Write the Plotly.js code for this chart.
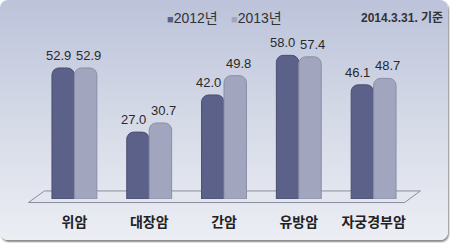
<!DOCTYPE html>
<html><head><meta charset="utf-8">
<script src="https://cdn.plot.ly/plotly-3.0.1.min.js"></script>
<style>
html,body{margin:0;padding:0;background:#fff;}
#wrap{position:absolute;left:0;top:0;width:448px;height:240px;border-radius:8px;
background:linear-gradient(to bottom,#bcc3da 0%,#d3d8e6 45%,#eceef4 100%);
box-shadow:1px 2px 2px #888;}
#chart{position:absolute;left:0;top:0;width:450px;height:243px;}
</style></head><body>
<div id="wrap"></div>
<div id="chart"></div>
<script>
const categories = ['위암','대장암','간암','유방암','자궁경부암'];
const series2012 = [52.9, 27.0, 42.0, 58.0, 46.1];
const series2013 = [52.9, 30.7, 49.8, 57.4, 48.7];
const seriesNames = ['2012년','2013년'];
const seriesColors = ['#5b6189','#a1a5bd'];
const note = '2014.3.31. 기준';

const font = 'Liberation Sans, Arial, Noto Sans CJK KR, sans-serif';
function mk(name, vals, color, line){
  return {type:'bar', name:name, x:categories, y:vals,
    marker:{color:color, line:{color:line, width:1}, cornerradius:7},
    hoverinfo:'skip'};
}
const data = [
  mk(seriesNames[0], series2012, seriesColors[0], '#4a4f72'),
  mk(seriesNames[1], series2013, seriesColors[1], '#8a8ea8')
];
// value labels: offset to each bar of the group
function valueLabels(vals, shift){
  return vals.map((v,i)=>({x:categories[i], y:v, xref:'x', yref:'y',
    xshift:shift, yshift:3, yanchor:'bottom', xanchor:'center', showarrow:false,
    text:v.toFixed(1), font:{family:font, size:13, color:'#2a2a2a'}}));
}
const legendAnn = seriesNames.map((n,i)=>({xref:'paper', yref:'paper',
  x:(i===0?165:229)/375 - 36.5/375, y:(199-18)/161, xanchor:'left', yanchor:'middle', showarrow:false,
  text:'<span style="color:'+seriesColors[i]+';font-size:11px">■</span>'+n,
  font:{family:font, size:14, color:'#333'}}));
const layout = {
  width:450, height:243,
  margin:{l:36.5, r:38.5, t:38, b:44, autoexpand:false},
  paper_bgcolor:'rgba(0,0,0,0)', plot_bgcolor:'rgba(0,0,0,0)',
  barmode:'group', bargap:0.4, bargroupgap:0,
  showlegend:false,
  xaxis:{showgrid:false, zeroline:false, showline:false, ticks:'',
    ticklabelstandoff:13,
    tickfont:{family:'Noto Sans CJK KR, sans-serif', size:14, color:'#222', weight:'bold'}},
  yaxis:{range:[0,65], visible:false, showgrid:false, zeroline:false},
  shapes:[{type:'path', xref:'paper', yref:'paper', layer:'below',
    path:'M -0.023 -0.022 L 0.02 0.05 L 1.025 0.05 L 0.983 -0.022 Z',
    fillcolor:'#e3e6ee', line:{color:'#8a8e9c', width:1}}],
  annotations:legendAnn
    .concat(valueLabels(series2012, -16))
    .concat(valueLabels(series2013, 14))
    .concat([{xref:'paper', yref:'paper', x:(446-36.5)/375, y:(199-18)/161,
    xanchor:'right', yanchor:'middle',
    text:note, showarrow:false, font:{family:font, size:12, color:'#333', weight:'bold'}}])
};
Plotly.newPlot('chart', data, layout, {displayModeBar:false, staticPlot:true});
</script></body></html>
